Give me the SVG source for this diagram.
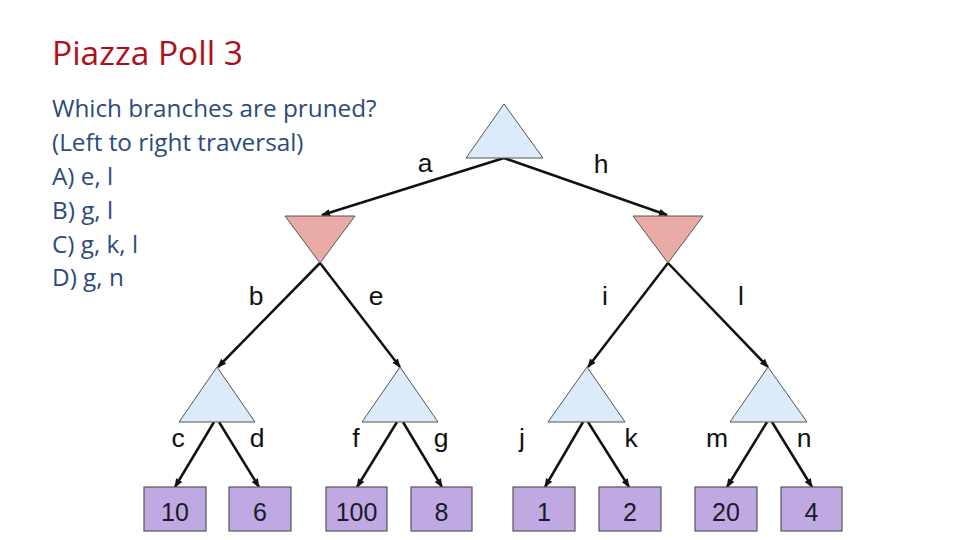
<svg xmlns="http://www.w3.org/2000/svg" width="960" height="540" viewBox="0 0 960 540">
<style>
.max{fill:#dcebfa;stroke:#555;stroke-width:1}
.min{fill:#e8aba6;stroke:#555;stroke-width:1}
.leaf{fill:#c0a8e2;stroke:#555;stroke-width:1.2}
.lbl{font-family:"Liberation Sans",Arial,sans-serif;font-size:26.5px;fill:#111;text-anchor:middle}
.num{font-family:"Liberation Sans",Arial,sans-serif;font-size:25px;fill:#1a1a2a;text-anchor:middle}
.edge{stroke:#111;stroke-width:2.5;fill:none;marker-end:url(#ah)}
.title{font-family:"Open Sans","Noto Sans",sans-serif;font-size:33.5px;fill:#b0101a}
.body{font-family:"Open Sans","Noto Sans",sans-serif;font-size:24.3px;fill:#2c4a7c}
</style>
<defs>
<marker id="ah" viewBox="0 0 10 10" refX="9" refY="5" markerWidth="3.6" markerHeight="3.6" orient="auto" markerUnits="strokeWidth">
<path d="M0,1 L10,5 L0,9 z" fill="#111"/>
</marker>
</defs>
<rect width="960" height="540" fill="#fff"/>
<text class="title" x="52" y="65">Piazza Poll 3</text>
<g id="question">
<text class="body" x="52" y="117">Which branches are pruned?</text>
<text class="body" x="52" y="151">(Left to right traversal)</text>
<text class="body" x="52" y="185">A) e, l</text>
<text class="body" x="52" y="219">B) g, l</text>
<text class="body" x="52" y="253">C) g, k, l</text>
<text class="body" x="52" y="286">D) g, n</text>
</g>
<g id="connectors">
<line class="edge" x1="504" y1="158" x2="322" y2="215"/>
<line class="edge" x1="504" y1="158" x2="667" y2="215"/>
<line class="edge" x1="320" y1="263" x2="218" y2="367"/>
<line class="edge" x1="320" y1="263" x2="400" y2="367"/>
<line class="edge" x1="668" y1="263" x2="588" y2="367"/>
<line class="edge" x1="668" y1="263" x2="768" y2="367"/>
<line class="edge" x1="214" y1="422" x2="175" y2="487"/>
<line class="edge" x1="219" y1="422" x2="259" y2="487"/>
<line class="edge" x1="397" y1="422" x2="357" y2="487"/>
<line class="edge" x1="403" y1="422" x2="442" y2="487"/>
<line class="edge" x1="583" y1="422" x2="545" y2="487"/>
<line class="edge" x1="588" y1="422" x2="629" y2="487"/>
<line class="edge" x1="767" y1="422" x2="727" y2="487"/>
<line class="edge" x1="772" y1="422" x2="812" y2="487"/>
<text class="lbl" x="425" y="172">a</text>
<text class="lbl" x="601" y="173">h</text>
<text class="lbl" x="256" y="305">b</text>
<text class="lbl" x="376" y="305">e</text>
<text class="lbl" x="605" y="305">i</text>
<text class="lbl" x="741" y="305">l</text>
<text class="lbl" x="178" y="447">c</text>
<text class="lbl" x="257" y="447">d</text>
<text class="lbl" x="356" y="447">f</text>
<text class="lbl" x="441" y="447">g</text>
<text class="lbl" x="522" y="447">j</text>
<text class="lbl" x="631" y="447">k</text>
<text class="lbl" x="717" y="447">m</text>
<text class="lbl" x="804" y="447">n</text>
</g>
<g id="root"><polygon class="max" points="504,104 543,158 466,158"/></g>
<g id="min-left"><polygon class="min" points="285,216 355,216 320,263"/></g>
<g id="min-right"><polygon class="min" points="633,216 703,216 668,263"/></g>
<g id="max1"><polygon class="max" points="217,367 255,422 179,422"/></g>
<g id="max2"><polygon class="max" points="400,367 438,422 362,422"/></g>
<g id="max3"><polygon class="max" points="587,367 625,422 548,422"/></g>
<g id="max4"><polygon class="max" points="768,367 807,422 730,422"/></g>
<g id="leaf10"><rect class="leaf" x="144" y="487" width="62" height="44"/><text class="num" x="175" y="521">10</text></g>
<g id="leaf6"><rect class="leaf" x="229" y="487" width="62" height="44"/><text class="num" x="260" y="521">6</text></g>
<g id="leaf100"><rect class="leaf" x="326" y="487" width="61" height="44"/><text class="num" x="356.5" y="521">100</text></g>
<g id="leaf8"><rect class="leaf" x="411" y="487" width="61" height="44"/><text class="num" x="441.5" y="521">8</text></g>
<g id="leaf1"><rect class="leaf" x="513" y="487" width="62" height="44"/><text class="num" x="544" y="521">1</text></g>
<g id="leaf2"><rect class="leaf" x="599" y="487" width="62" height="44"/><text class="num" x="630" y="521">2</text></g>
<g id="leaf20"><rect class="leaf" x="695" y="487" width="62" height="44"/><text class="num" x="726" y="521">20</text></g>
<g id="leaf4"><rect class="leaf" x="781" y="487" width="61" height="44"/><text class="num" x="811.5" y="521">4</text></g>
</svg>
